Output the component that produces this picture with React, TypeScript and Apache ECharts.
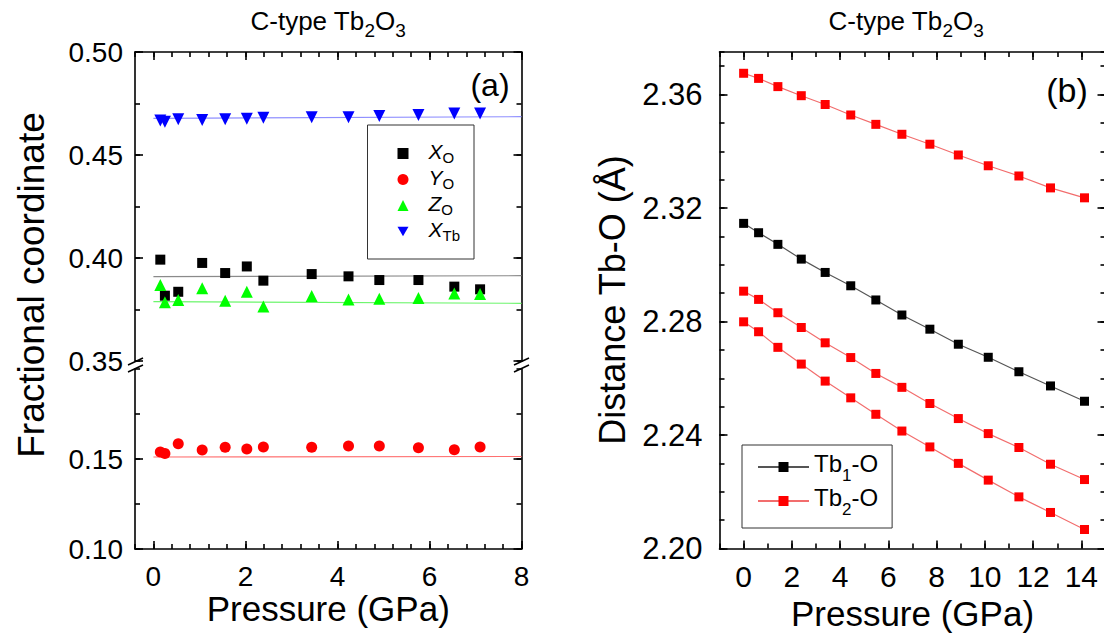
import React, { useEffect, useRef } from "react";
import * as echarts from "echarts";

// ---------- Panel (a): fractional coordinates ----------
const P_LEFT = [0.15, 0.25, 0.54, 1.06, 1.56, 2.03, 2.39, 3.44, 4.24, 4.91, 5.76, 6.54, 7.1];
const X_O = [0.3992, 0.3817, 0.3836, 0.3976, 0.3927, 0.3959, 0.389, 0.3922, 0.3911, 0.3893, 0.3893, 0.3861, 0.3848];
const Y_O = [0.1539, 0.1531, 0.1585, 0.155, 0.1565, 0.1556, 0.1567, 0.1565, 0.1572, 0.1572, 0.1563, 0.1552, 0.1567];
const Z_O = [0.3869, 0.3785, 0.3796, 0.3853, 0.3793, 0.3836, 0.3765, 0.3815, 0.3798, 0.3802, 0.3806, 0.3828, 0.3825];
const X_TB = [0.4667, 0.4662, 0.4673, 0.467, 0.4673, 0.4676, 0.4681, 0.4683, 0.4683, 0.4689, 0.4694, 0.4702, 0.4702];

const FIT_P = [0, 8];
const X_O_FIT = [0.391, 0.3914];
const Y_O_FIT = [0.1511, 0.1514];
const Z_O_FIT = [0.3788, 0.378];
const X_TB_FIT = [0.4678, 0.4686];

const L_X_TICKS = [0, 2, 4, 6, 8];
const LU_Y_TICKS = [0.35, 0.4, 0.45, 0.5];
const LL_Y_TICKS = [0.1, 0.15];

// ---------- Panel (b): Tb-O distances ----------
const P_RIGHT = [0, 0.62, 1.42, 2.39, 3.38, 4.44, 5.48, 6.56, 7.72, 8.9, 10.14, 11.41, 12.72, 14.13];
const TB1_O = [2.3146, 2.3113, 2.3072, 2.302, 2.2973, 2.2926, 2.2876, 2.2823, 2.2773, 2.272, 2.2674, 2.2623, 2.2573, 2.2519];
const TB2_O_LONG = [2.3675, 2.3657, 2.3628, 2.3596, 2.3565, 2.3528, 2.3495, 2.346, 2.3425, 2.3387, 2.3349, 2.3313, 2.3271, 2.3236];
const TB2_O_MID = [2.2907, 2.2878, 2.2831, 2.2779, 2.2725, 2.2673, 2.2617, 2.2568, 2.2511, 2.2458, 2.2405, 2.2356, 2.2297, 2.2243];
const TB2_O_SHORT = [2.2799, 2.2764, 2.2709, 2.265, 2.259, 2.2531, 2.2473, 2.2414, 2.2358, 2.23, 2.2241, 2.2182, 2.2127, 2.2067];

const R_X_TICKS = [0, 2, 4, 6, 8, 10, 12, 14];
const R_Y_TICKS = [2.2, 2.24, 2.28, 2.32, 2.36];

const LEGEND_TEXT: Record<string, string> = {
  XO: "{i|X}{s|O}",
  YO: "{i|Y}{s|O}",
  ZO: "{i|Z}{s|O}",
  XTb: "{i|X}{s|Tb}",
  "Tb1-O": "{n|Tb}{s|1}{n|-O}",
  "Tb2-O": "{n|Tb}{s|2}{n|-O}",
};

const FONT = 'Arial, "Liberation Sans", Helvetica, sans-serif';
const LINE = { color: "#000", width: 1.6 };

const zip = (xs: number[], ys: number[]) => xs.map((x, i) => [x, ys[i]]);

function majorAxis(
  gridIndex: number,
  position: string,
  min: number,
  max: number,
  ticks: number[],
  showLabels: boolean,
  fmt: (v: number) => string,
  margin: number,
  fontSize: number,
  extra: any = {}
) {
  return {
    type: "value",
    gridIndex,
    position,
    min,
    max,
    axisLine: { show: true, onZero: false, lineStyle: LINE },
    axisTick: { show: true, inside: true, length: 8, customValues: ticks, lineStyle: LINE },
    axisLabel: {
      show: showLabels,
      customValues: ticks,
      formatter: fmt,
      color: "#000",
      fontSize,
      fontFamily: FONT,
      margin,
    },
    splitLine: { show: false },
    ...extra,
  };
}

function minorAxis(gridIndex: number, position: string, min: number, max: number, interval: number) {
  return {
    type: "value",
    gridIndex,
    position,
    min,
    max,
    interval,
    axisLine: { show: false, onZero: false },
    axisTick: { show: true, inside: true, length: 5, lineStyle: LINE },
    axisLabel: { show: false },
    splitLine: { show: false },
  };
}

const fmt2 = (v: number) => v.toFixed(2);
const fmt0 = (v: number) => String(Math.round(v));

const xName = {
  name: "Pressure (GPa)",
  nameLocation: "middle",
  nameGap: 28,
  nameTextStyle: { fontSize: 35, fontFamily: FONT, color: "#000" },
};

const titleRich = {
  n: { fontSize: 26, fontWeight: "normal", lineHeight: 30, verticalAlign: "top", fontFamily: FONT, color: "#000" },
  s: { fontSize: 19, fontWeight: "normal", lineHeight: 22, padding: [13, 0, 0, 0], verticalAlign: "top", fontFamily: FONT, color: "#000" },
};

function buildOption(): any {
  const fitLine = (name: string, ys: number[], color: string) => ({
    name,
    type: "line",
    xAxisIndex: 2,
    yAxisIndex: 0,
    data: zip(FIT_P, ys),
    symbol: "none",
    silent: true,
    lineStyle: { color, width: 1.2 },
    z: 1,
  });

  const rightLine = (name: string, ys: number[], color: string, lineColor: string) => ({
    name,
    type: "line",
    xAxisIndex: 4,
    yAxisIndex: 8,
    data: zip(P_RIGHT, ys),
    symbol: "rect",
    symbolSize: 9,
    showSymbol: true,
    showAllSymbol: true,
    itemStyle: { color, opacity: 1 },
    lineStyle: { color: lineColor, width: 1.2 },
  });

  const scatter = (name: string, ys: number[], symbol: string, size: number, color: string, lower: boolean, rotate = 0) => ({
    name,
    type: "scatter",
    xAxisIndex: lower ? 0 : 2,
    yAxisIndex: lower ? 4 : 0,
    symbol,
    symbolRotate: rotate,
    symbolSize: size,
    itemStyle: { color, opacity: 1 },
    data: zip(P_LEFT, ys),
    z: 3,
  });

  return {
    animation: false,
    backgroundColor: "#fff",
    textStyle: { fontFamily: FONT },
    title: [
      { text: "{n|C-type Tb}{s|2}{n|O}{s|3}", left: 328, top: 8, padding: 0, textAlign: "center", textStyle: { fontWeight: "normal", rich: titleRich } },
      { text: "{n|C-type Tb}{s|2}{n|O}{s|3}", left: 906, top: 8, padding: 0, textAlign: "center", textStyle: { fontWeight: "normal", rich: titleRich } },
    ],
    grid: [
      { left: 135, top: 52, width: 386.5, height: 309, containLabel: false, outerBoundsMode: "none" },
      { left: 135, top: 369, width: 386.5, height: 180, containLabel: false, outerBoundsMode: "none" },
      { left: 719.5, top: 52, width: 386, height: 496.5, containLabel: false, outerBoundsMode: "none" },
    ],
    xAxis: [
      majorAxis(1, "bottom", -0.4, 8, L_X_TICKS, true, fmt0, 13, 28, xName),
      minorAxis(1, "bottom", -0.4, 8, 0.4),
      majorAxis(0, "top", -0.4, 8, L_X_TICKS, false, fmt0, 10, 28),
      minorAxis(0, "top", -0.4, 8, 0.4),
      majorAxis(2, "bottom", -1, 15, R_X_TICKS, true, fmt0, 13, 30, xName),
      minorAxis(2, "bottom", -1, 15, 1),
      majorAxis(2, "top", -1, 15, R_X_TICKS, false, fmt0, 10, 30),
      minorAxis(2, "top", -1, 15, 1),
    ],
    yAxis: [
      majorAxis(0, "left", 0.35, 0.5, LU_Y_TICKS, true, fmt2, 12, 28),
      minorAxis(0, "left", 0.35, 0.5, 0.025),
      majorAxis(0, "right", 0.35, 0.5, LU_Y_TICKS, false, fmt2, 12, 28),
      minorAxis(0, "right", 0.35, 0.5, 0.025),
      majorAxis(1, "left", 0.1, 0.2, LL_Y_TICKS, true, fmt2, 12, 28),
      minorAxis(1, "left", 0.1, 0.2, 0.025),
      majorAxis(1, "right", 0.1, 0.2, LL_Y_TICKS, false, fmt2, 12, 28),
      minorAxis(1, "right", 0.1, 0.2, 0.025),
      majorAxis(2, "left", 2.2, 2.375, R_Y_TICKS, true, fmt2, 17, 31),
      minorAxis(2, "left", 2.2, 2.375, 0.01),
      majorAxis(2, "right", 2.2, 2.375, R_Y_TICKS, false, fmt2, 17, 31),
      minorAxis(2, "right", 2.2, 2.375, 0.01),
    ],
    legend: [
      {
        orient: "vertical",
        left: 367.5,
        top: 125,
        padding: [16, 14, 16, 30],
        itemGap: 2,
        itemWidth: 11,
        itemHeight: 11,
        borderColor: "#333",
        borderWidth: 1,
        selectedMode: false,
        data: [
          { name: "XO" },
          { name: "YO" },
          { name: "ZO" },
          { name: "XTb", icon: "path://M0,0 L12,0 L6,10.4 Z" },
        ],
        formatter: (name: string) => LEGEND_TEXT[name],
        textStyle: {
          padding: [0, 0, 0, 15],
          rich: {
            i: { fontSize: 21, fontStyle: "italic", lineHeight: 25, verticalAlign: "top", fontFamily: FONT, color: "#000" },
            s: { fontSize: 15, lineHeight: 17, padding: [9, 0, 0, 0], verticalAlign: "top", fontFamily: FONT, color: "#000" },
          },
        },
      },
      {
        orient: "vertical",
        left: 742,
        top: 445,
        padding: [6, 14, 10, 15],
        itemGap: 1,
        itemWidth: 51,
        itemHeight: 12.5,
        borderColor: "#333",
        borderWidth: 1,
        selectedMode: false,
        data: ["Tb1-O", "Tb2-O"],
        formatter: (name: string) => LEGEND_TEXT[name],
        textStyle: {
          rich: {
            n: { fontSize: 24, lineHeight: 32, verticalAlign: "top", fontFamily: FONT, color: "#000" },
            s: { fontSize: 17, lineHeight: 17, padding: [16, 0, 0, 0], verticalAlign: "top", fontFamily: FONT, color: "#000" },
          },
        },
      },
    ],
    graphic: [
      {
        type: "text",
        x: 31,
        y: 285,
        rotation: Math.PI / 2,
        style: { text: "Fractional coordinate", fontSize: 37, fontFamily: FONT, fill: "#000", align: "center", verticalAlign: "middle", textAlign: "center", textVerticalAlign: "middle" },
      },
      {
        type: "text",
        x: 612,
        y: 300,
        rotation: Math.PI / 2,
        style: { text: "Distance Tb-O (Å)", fontSize: 36, fontFamily: FONT, fill: "#000", align: "center", verticalAlign: "middle", textAlign: "center", textVerticalAlign: "middle" },
      },
      {
        type: "text",
        x: 490,
        y: 85,
        style: { text: "(a)", fontSize: 32, fontFamily: FONT, fill: "#000", align: "center", verticalAlign: "middle", textAlign: "center", textVerticalAlign: "middle" },
      },
      {
        type: "text",
        x: 1067,
        y: 90,
        style: { text: "(b)", fontSize: 34, fontFamily: FONT, fill: "#000", align: "center", verticalAlign: "middle", textAlign: "center", textVerticalAlign: "middle" },
      },
      // axis break marks
      { type: "line", shape: { x1: 128, y1: 365, x2: 143, y2: 358 }, style: { stroke: "#000", lineWidth: 1.5 } },
      { type: "line", shape: { x1: 128, y1: 372, x2: 143, y2: 365 }, style: { stroke: "#000", lineWidth: 1.5 } },
      { type: "line", shape: { x1: 514, y1: 365, x2: 529, y2: 358 }, style: { stroke: "#000", lineWidth: 1.5 } },
      { type: "line", shape: { x1: 514, y1: 372, x2: 529, y2: 365 }, style: { stroke: "#000", lineWidth: 1.5 } },
    ],
    series: [
      fitLine("XO fit", X_O_FIT, "#8a8a8a"),
      fitLine("ZO fit", Z_O_FIT, "#6cf56c"),
      fitLine("XTb fit", X_TB_FIT, "#8f8fff"),
      { ...fitLine("YO fit", Y_O_FIT, "#ff7070"), xAxisIndex: 0, yAxisIndex: 4 },
      scatter("XO", X_O, "rect", 10, "#000", false),
      scatter("YO", Y_O, "circle", 11, "#ff0000", true),
      scatter("ZO", Z_O, "triangle", 12, "#00ff00", false),
      scatter("XTb", X_TB, "triangle", 12, "#0000ff", false, 180),
      rightLine("Tb1-O", TB1_O, "#000", "#555"),
      rightLine("Tb2-O", TB2_O_LONG, "#ff0000", "#f26d6d"),
      rightLine("Tb2-O", TB2_O_MID, "#ff0000", "#f26d6d"),
      rightLine("Tb2-O", TB2_O_SHORT, "#ff0000", "#f26d6d"),
    ],
  };
}

export default function App() {
  const ref = useRef<HTMLDivElement>(null);
  useEffect(() => {
    if (!ref.current) return;
    const chart = echarts.init(ref.current, null, { renderer: "svg" });
    chart.setOption(buildOption());
    return () => chart.dispose();
  }, []);
  return (
    <div
      ref={ref}
      style={{ position: "absolute", left: 0, top: 0, width: 1104, height: 636, background: "#fff" }}
    />
  );
}
